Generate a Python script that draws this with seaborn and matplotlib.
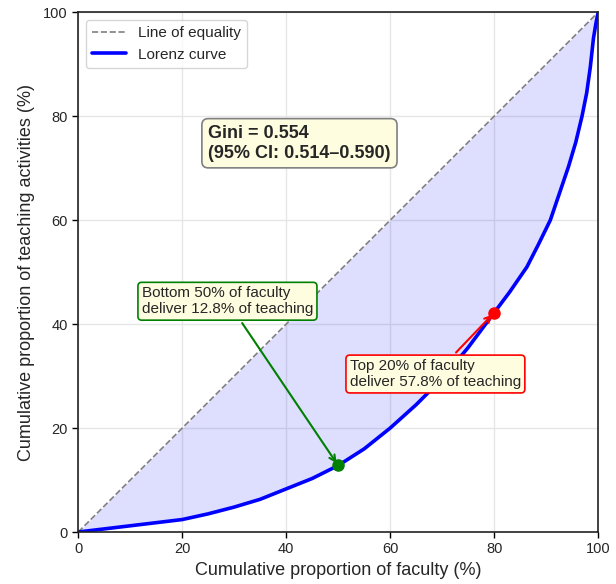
import numpy as np
import pandas as pd
import matplotlib
matplotlib.use("Agg")
import matplotlib.pyplot as plt
import seaborn as sns

# Data
cum_faculty = [0, 5, 10, 15, 20, 25, 30, 35, 40, 45, 50, 55, 60, 65, 70, 75, 80,
               83, 86.3, 88.5, 90.8, 92.5, 94.3, 95.7, 96.9, 97.8, 98.5, 99.1, 99.6, 100]
cum_teaching = [0, 0.6, 1.2, 1.8, 2.4, 3.5, 4.8, 6.3, 8.3, 10.3, 12.8, 16.0, 20.0, 24.5, 29.5, 35.5, 42.2,
                46.2, 51.0, 55.3, 60.0, 65.0, 70.3, 75.0, 80.0, 84.5, 89.5, 95.0, 98.0, 100]
equality = [0, 100]
bottom_pt = (50, 12.8)
top_pt = (80, 42.2)
gini_text = "Gini = 0.554\n(95% CI: 0.514\u20130.590)"
bottom_text = "Bottom 50% of faculty\ndeliver 12.8% of teaching"
top_text = "Top 20% of faculty\ndeliver 57.8% of teaching"

sns.set_theme(style="whitegrid")
plt.rcParams['font.family'] = ['Arial', 'Liberation Sans', 'DejaVu Sans']

fig = plt.figure(figsize=(6.16, 5.84), dpi=100)
ax = fig.add_axes([0.127, 0.089, 0.844, 0.890])

df = pd.DataFrame({"x": cum_faculty, "y": cum_teaching})

ax.fill_between(cum_faculty, cum_teaching, cum_faculty, color="blue", alpha=0.13, linewidth=0)
ax.plot(equality, equality, linestyle="--", color="gray", linewidth=1.2, label="Line of equality")
sns.lineplot(data=df, x="x", y="y", color="blue", linewidth=2.6, label="Lorenz curve", ax=ax)

ax.plot([bottom_pt[0]], [bottom_pt[1]], "o", color="green", markersize=8, zorder=5)
ax.plot([top_pt[0]], [top_pt[1]], "o", color="red", markersize=8, zorder=5)

ax.text(25, 74.8, gini_text, fontsize=13, fontweight="bold", ha="left", va="center",
        multialignment="left",
        bbox=dict(boxstyle="round,pad=0.35", facecolor="#fffde0", edgecolor="gray", linewidth=1.2))

ax.annotate(bottom_text, xy=bottom_pt, xytext=(28.7, 44.4), fontsize=11, ha="center", va="center",
            multialignment="left",
            arrowprops=dict(arrowstyle="->", color="green", lw=1.5),
            bbox=dict(boxstyle="round,pad=0.25", facecolor="#fffde0", edgecolor="green", linewidth=1.2))
ax.annotate(top_text, xy=top_pt, xytext=(68.7, 30.4), fontsize=11, ha="center", va="center",
            multialignment="left",
            arrowprops=dict(arrowstyle="->", color="red", lw=1.5),
            bbox=dict(boxstyle="round,pad=0.25", facecolor="#fffde0", edgecolor="red", linewidth=1.2))

ax.set_xlim(0, 100)
ax.set_ylim(0, 100)
ax.set_xticks([0, 20, 40, 60, 80, 100])
ax.set_yticks([0, 20, 40, 60, 80, 100])
ax.set_xlabel("Cumulative proportion of faculty (%)", fontsize=13, labelpad=4)
ax.set_ylabel("Cumulative proportion of teaching activities (%)", fontsize=13, labelpad=6)
ax.tick_params(axis="both", labelsize=10.5, length=4, width=1, color="black", bottom=True, left=True)
ax.grid(True, color="#e6e6e6", linewidth=1)
for s in ax.spines.values():
    s.set_color("#222222")
    s.set_linewidth(1.2)
ax.legend(loc="upper left", fontsize=11, frameon=True, handlelength=2.2)

fig.savefig("out.png", dpi=100)
